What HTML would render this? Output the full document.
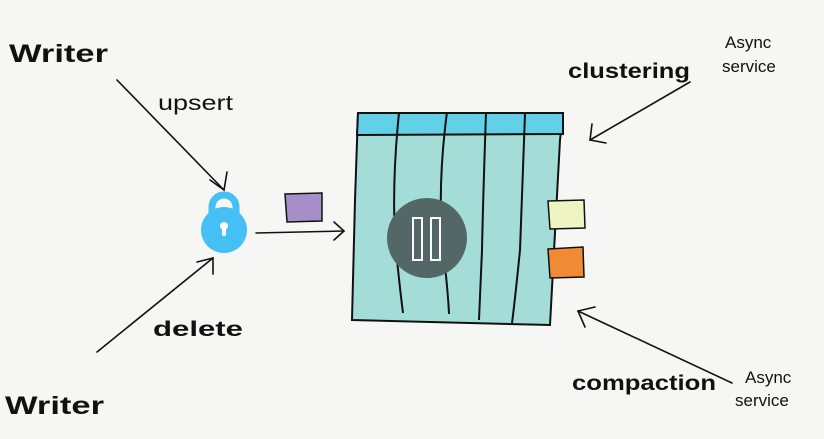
<!DOCTYPE html>
<html><head><meta charset="utf-8"><style>
html,body{margin:0;padding:0;background:#f6f6f4;}
svg{display:block}
text{font-family:"Liberation Sans",sans-serif;}
</style></head><body>
<svg width="824" height="439" viewBox="0 0 824 439" xmlns="http://www.w3.org/2000/svg">
<rect width="824" height="439" fill="#f6f6f4"/>
<g fill="none" stroke="#111" stroke-width="1.6" stroke-linecap="round">
<path d="M117 80 L224 190"/><path d="M210 180 L224 190 L227 172"/>
<path d="M97 352 L213 258"/><path d="M197 262 L213 258 L213 274"/>
<path d="M256 233 L344 231"/><path d="M334 222 L344 231 L334 240"/>
<path d="M690 82 L590 140"/><path d="M592 124 L590 140 L606 143"/>
<path d="M732 383 L578 311"/><path d="M585 327 L578 311 L595 307"/>
</g>
<text x="9" y="62" font-size="25" font-weight="bold" fill="#111" textLength="99" lengthAdjust="spacingAndGlyphs">Writer</text>
<text x="5" y="414" font-size="25" font-weight="bold" fill="#111" textLength="99" lengthAdjust="spacingAndGlyphs">Writer</text>
<text x="158" y="110" font-size="21" fill="#111" textLength="75" lengthAdjust="spacingAndGlyphs">upsert</text>
<text x="153" y="336" font-size="21" font-weight="bold" fill="#111" textLength="90" lengthAdjust="spacingAndGlyphs">delete</text>
<text x="568" y="78" font-size="21" font-weight="bold" fill="#111" textLength="122" lengthAdjust="spacingAndGlyphs">clustering</text>
<text x="572" y="390" font-size="21" font-weight="bold" fill="#111" textLength="144" lengthAdjust="spacingAndGlyphs">compaction</text>
<text x="725" y="48" font-size="17" fill="#111">Async</text>
<text x="722" y="72" font-size="17" fill="#111">service</text>
<text x="745" y="383" font-size="17" fill="#111">Async</text>
<text x="735" y="406" font-size="17" fill="#111">service</text>
<!-- lock -->
<path d="M212 218 V207 a12 12 0 0 1 24 0 V218" fill="none" stroke="#45c0f5" stroke-width="7"/>
<circle cx="224" cy="230" r="23" fill="#45c0f5"/>
<circle cx="224" cy="226" r="4" fill="#fff"/>
<rect x="222" y="227" width="4" height="9" rx="2" fill="#fff"/>
<!-- purple -->
<path d="M285 194 L322 193 L322 221 L287 222 Z" fill="#a68fc8" stroke="#111" stroke-width="1.5"/>
<!-- table -->
<path d="M358 113 L563 113 L560 140 L550 325 L352 320 L355 200 Z" fill="#a4dcd8" stroke="#111" stroke-width="2"/>
<path d="M358 113 L563 113 L563 134 L357 135 Z" fill="#62d0e6" stroke="#111" stroke-width="2"/>
<g fill="none" stroke="#111" stroke-width="2">
<path d="M399 113 Q392 180 395 240 Q400 290 403 313"/>
<path d="M447 112 Q438 180 442 240 Q448 290 449 314"/>
<path d="M486 113 Q483 200 482 250 Q480 300 479 320"/>
<path d="M525 114 Q522 200 520 250 Q515 300 512 323"/>
</g>
<circle cx="427" cy="238" r="40" fill="#536866"/>
<rect x="413" y="218" width="9" height="42" fill="none" stroke="#fff" stroke-width="2"/>
<rect x="431" y="218" width="9" height="42" fill="none" stroke="#fff" stroke-width="2"/>
<path d="M548 201 L584 200 L585 228 L550 229 Z" fill="#eef5c2" stroke="#111" stroke-width="1.5"/>
<path d="M548 249 L583 247 L584 277 L550 278 Z" fill="#f08a34" stroke="#111" stroke-width="1.5"/>
</svg>
</body></html>
